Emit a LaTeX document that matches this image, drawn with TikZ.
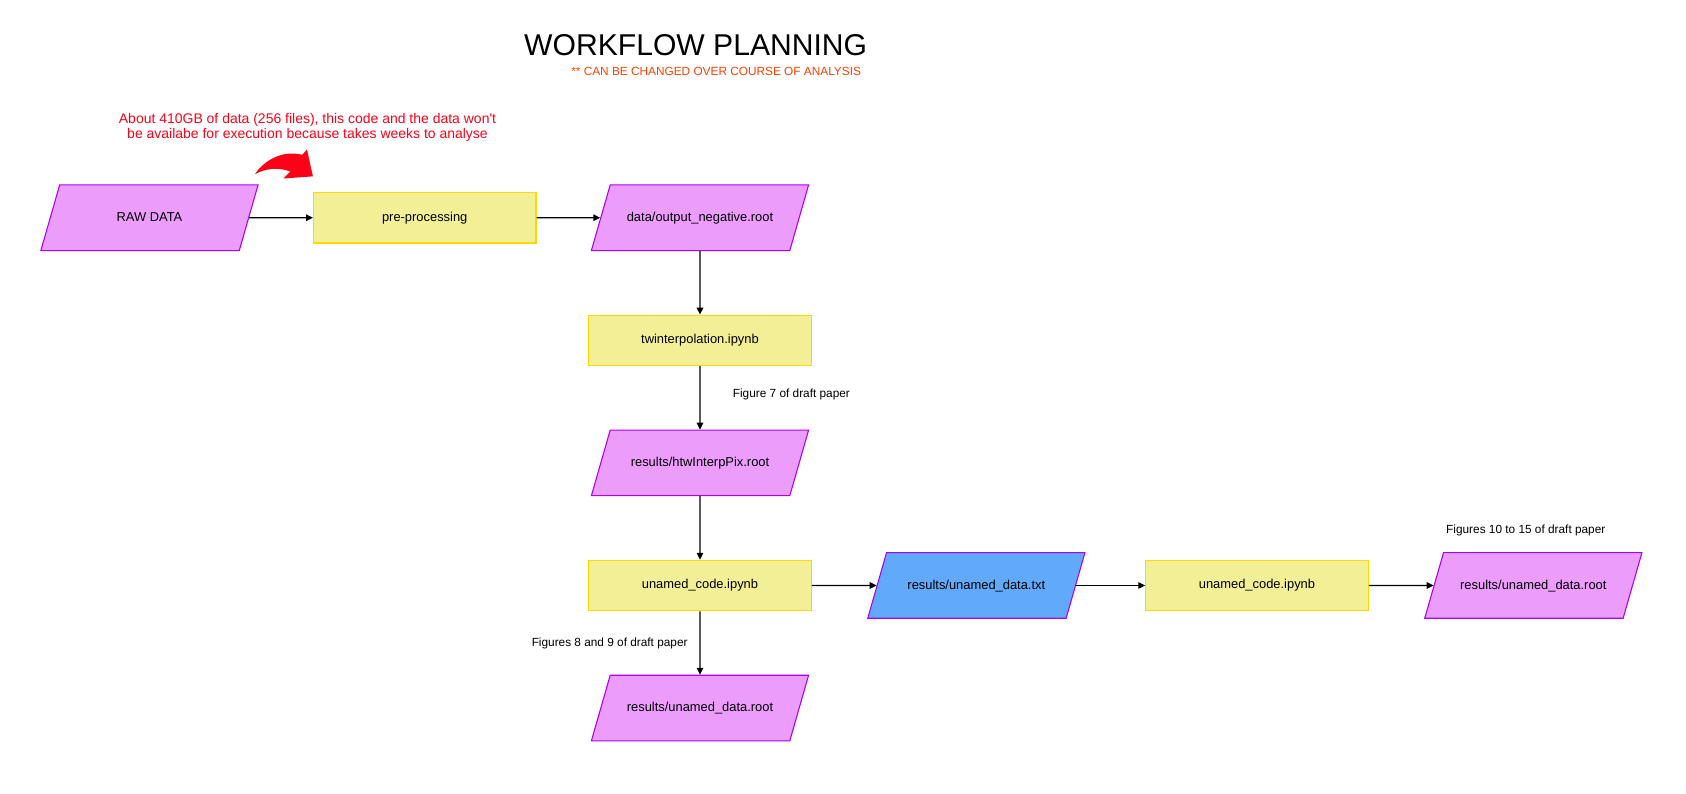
\documentclass[tikz,border=0pt]{standalone}
\usepackage{fontspec}
\setmainfont{Liberation Sans}
\usetikzlibrary{shapes.geometric,arrows,arrows.meta}
\definecolor{pinkfill}{RGB}{236,157,252}
\definecolor{purpleline}{RGB}{170,0,255}
\definecolor{yellowfill}{RGB}{243,239,151}
\definecolor{goldline}{RGB}{255,217,0}
\definecolor{bluefill}{RGB}{96,169,251}
\definecolor{warnred}{RGB}{255,0,25}
\definecolor{suborange}{RGB}{255,64,0}
\tikzstyle{io} = [trapezium, trapezium left angle = 74, trapezium right angle = 106, trapezium stretches body, text height = 7pt, text depth = 2pt, inner ysep = 18.375pt, minimum width = 151.5pt, text centered, draw = purpleline, fill = pinkfill, line width = 0.75pt, font = \fontsize{9}{11}\selectfont]
\tikzstyle{iotxt} = [io, fill = bluefill]
\tikzstyle{process} = [rectangle, minimum width = 155.25pt, minimum height = 35.25pt, text centered, draw = goldline, fill = yellowfill, line width = 0.75pt, font = \fontsize{9}{11}\selectfont]
\tikzstyle{note} = [font = \fontsize{8.25}{10}\selectfont]
\tikzstyle{arrow} = [line width = 0.75pt,->,>={Triangle[length=4.8pt,width=4.6pt]}]

\begin{document}
\begin{tikzpicture}[x = 0.75pt, y = 0.75pt, node distance = 85.5pt]
	\useasboundingbox (0,0) rectangle (1568,-737.5);

	\node[font = \fontsize{21}{25}\selectfont](title) at (647,-42){WORKFLOW PLANNING};
	\node[note, text = suborange](subtitle) at (666,-66){** CAN BE CHANGED OVER COURSE OF ANALYSIS};
	\node[text = warnred, align = center, font = \fontsize{9.75}{10.9}\selectfont](warning) at (286,-118.5){About 410GB of data (256 files), this code and the data won\textquotesingle t\\be availabe for execution because takes weeks to analyse};

	\node[io](raw) at (139,-202.5){RAW DATA};
	\node[process,right of =raw,xshift = 106.5pt](pre){pre-processing};
	\node[io,right of =pre,xshift = 106.5pt](negative){data/output\_negative.root};
	\node[process,below of =negative](twinterp){twinterpolation.ipynb};
	\node[io,below of =twinterp](htw){results/htwInterpPix.root};
	\node[process,below of =htw](code1){unamed\_code.ipynb};
	\node[io,below of =code1](root1){results/unamed\_data.root};
	\node[iotxt,right of =code1,xshift = 107.25pt](txt){results/unamed\_data.txt};
	\node[process,right of =txt,xshift = 110.25pt](code2){unamed\_code.ipynb};
	\node[io,right of =code2,xshift = 107.25pt](root2){results/unamed\_data.root};

	\node[note](fig7) at (736,-367){Figure 7 of draft paper};
	\node[note](fig89) at (567,-598){Figures 8 and 9 of draft paper};
	\node[note](fig1015) at (1419,-493){Figures 10 to 15 of draft paper};

	% curved red pointer
	\fill[warnred] (237,-162) .. controls (245,-150) and (262,-139) .. (281,-144) -- (285.5,-139) -- (291,-164) -- (263.5,-166) -- (270,-159.5) .. controls (258,-155) and (246,-157) .. cycle;

	\draw [arrow](raw)--(pre);
	\draw [arrow](pre)--(negative);
	\draw [arrow](negative)--(twinterp);
	\draw [arrow](twinterp)--(htw);
	\draw [arrow](htw)--(code1);
	\draw [arrow](code1)--(root1);
	\draw [arrow](code1)--(txt);
	\draw [arrow](txt)--(code2);
	\draw [arrow](code2)--(root2);

\end{tikzpicture}
\end{document}
